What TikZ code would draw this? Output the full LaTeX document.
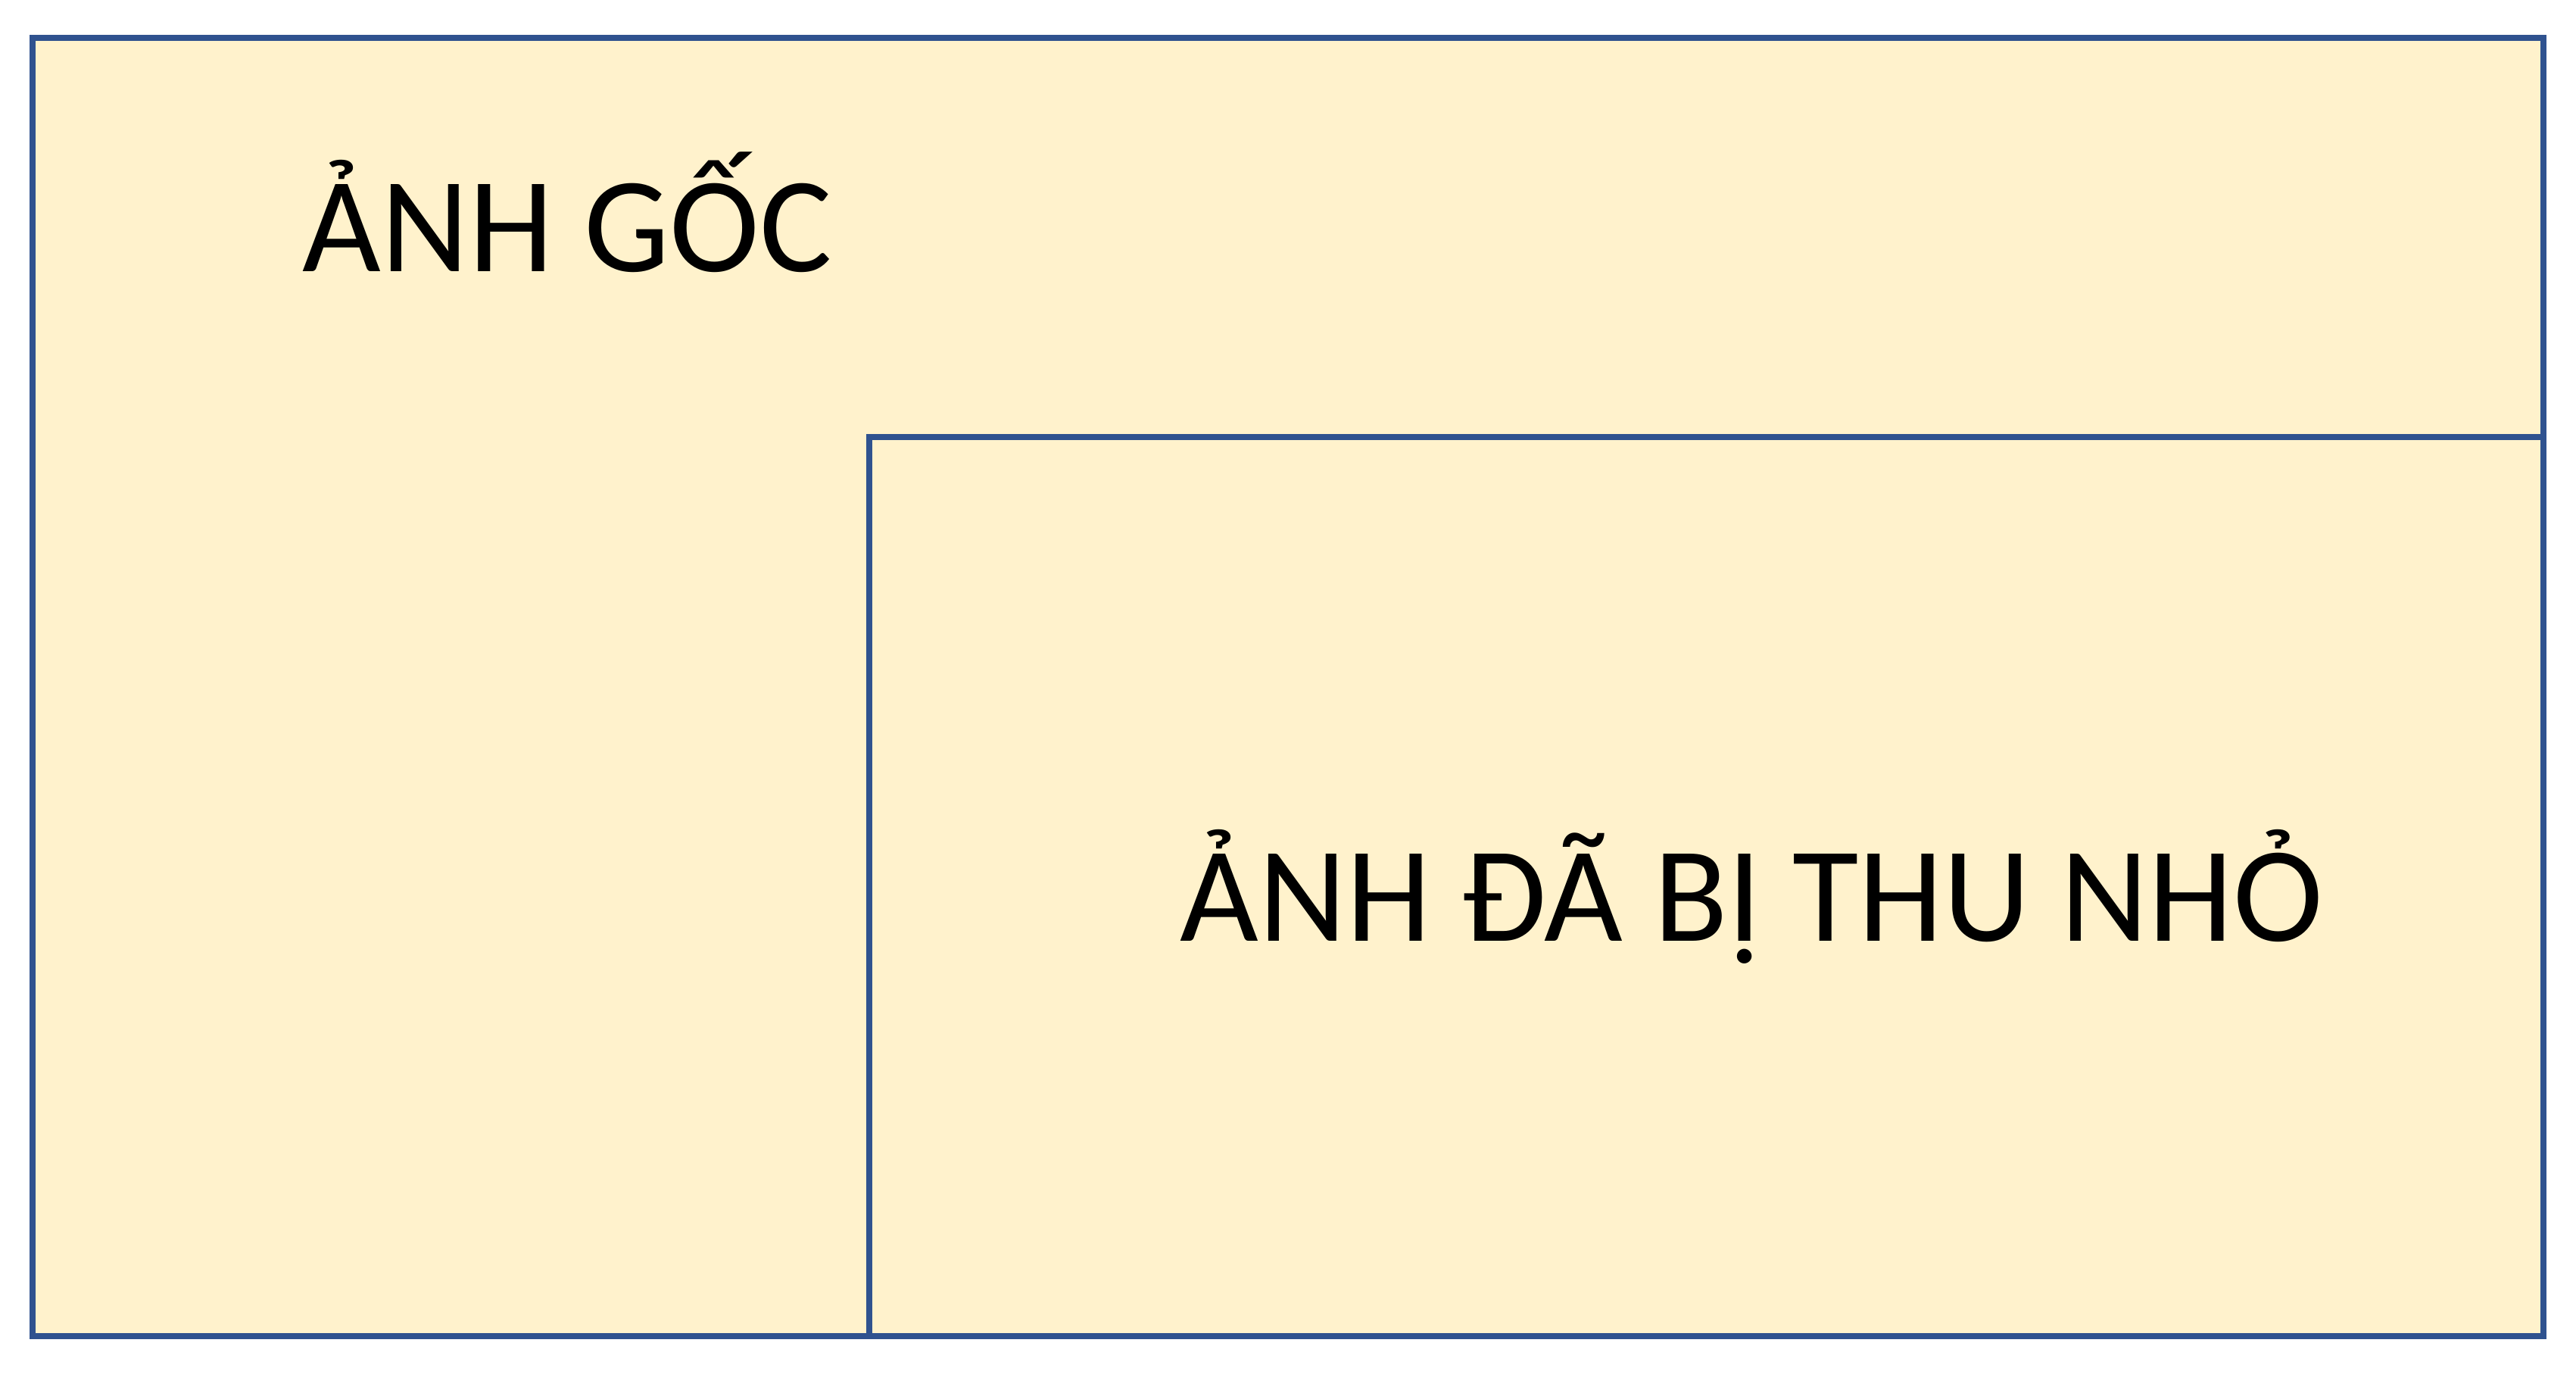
\documentclass[tikz,border=0pt]{standalone}
\usepackage{fontspec}
\setmainfont{Carlito}
\definecolor{khung}{HTML}{2F528F}
\definecolor{nen}{HTML}{FFF2CC}
\tikzset{
  anh/.style={draw=khung, fill=nen, line width=2.4pt},
  nhan/.style={anchor=base west, inner sep=0pt, font=\fontsize{51}{60}\selectfont}
}
\begin{document}
\begin{tikzpicture}
      \useasboundingbox (0,0) rectangle (34.02,18.14);
      \draw[anh] (0.43,0.50) rectangle (33.59,17.64); % goc
      \draw[anh, line width=2.1pt] (11.48,0.50) rectangle (33.59,12.37); % thu nho
      \node[nhan] (goc) at (3.99,14.55) {ẢNH GỐC}; % top
      \node[nhan] (thunho) at (15.58,5.71) {ẢNH ĐÃ BỊ THU NHỎ}; % right
    \end{tikzpicture}
\end{document}
